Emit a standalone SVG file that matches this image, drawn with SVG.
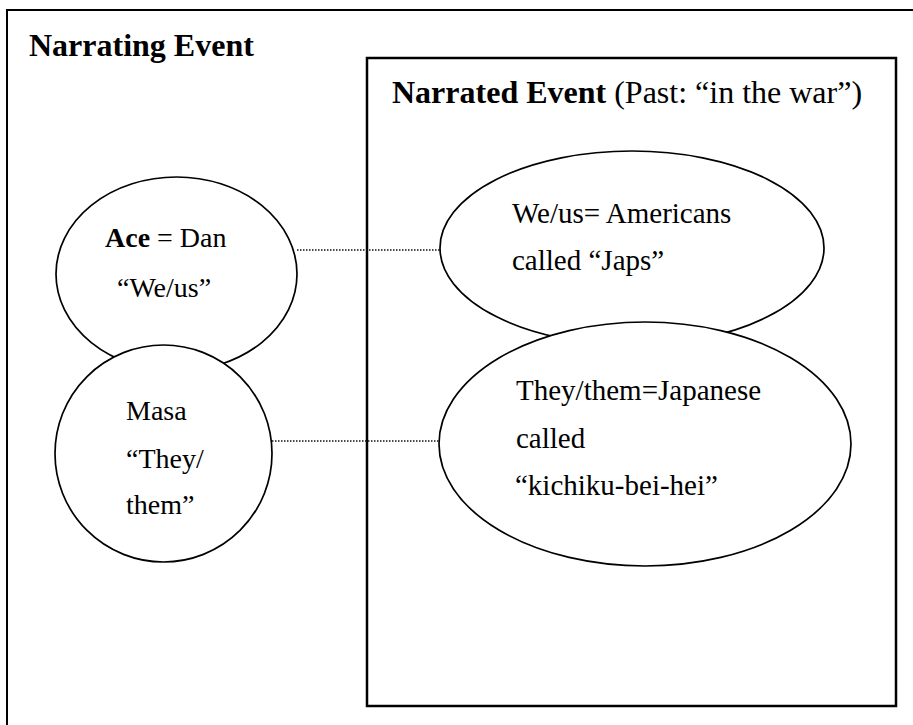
<svg xmlns="http://www.w3.org/2000/svg" width="913" height="725" viewBox="0 0 913 725">
  <style>
    .frame { fill: none; stroke: #000; }
    .bubble { fill: #fff; stroke: #000; stroke-width: 1.7; }
    .link { stroke: #111; stroke-width: 1.4; stroke-dasharray: 1.5 1.5; fill: none; }
    text { font-family: "Liberation Serif", "Times New Roman", serif; fill: #000; }
    .head { font-size: 32px; }
    .label { font-size: 28px; }
    .label-r { font-size: 29px; }
    .b { font-weight: bold; }
  </style>
  <rect width="913" height="725" fill="#fff"/>

  <!-- outer frame: the narrating event (runs past the right and bottom edges) -->
  <g id="narrating-event">
    <path class="frame" stroke-width="2" d="M7,726 V10 H914"/>
    <text class="head b" x="29" y="56">Narrating Event</text>
  </g>

  <!-- inner frame: the narrated event -->
  <g id="narrated-event">
    <rect class="frame" stroke-width="2.5" x="367" y="58" width="529" height="648"/>
    <text class="head" x="392" y="103"><tspan class="b">Narrated Event</tspan> (Past: “in the war”)</text>
  </g>

  <!-- dotted links between participants and their referents -->
  <g id="connectors">
    <line class="link" x1="297" y1="250" x2="440" y2="250"/>
    <line class="link" x1="272" y1="441" x2="439" y2="441"/>
  </g>

  <g id="ace">
    <ellipse class="bubble" cx="176.5" cy="274" rx="120.5" ry="97"/>
    <text class="label" x="105" y="247"><tspan class="b">Ace</tspan> = Dan</text>
    <text class="label" x="117" y="297">“We/us”</text>
  </g>

  <g id="masa">
    <ellipse class="bubble" cx="163.5" cy="453.5" rx="108.5" ry="108.5"/>
    <text class="label" x="126" y="420">Masa</text>
    <text class="label" x="126" y="468">“They/</text>
    <text class="label" x="126" y="514">them”</text>
  </g>

  <g id="americans">
    <ellipse class="bubble" cx="632" cy="248" rx="192" ry="97"/>
    <text class="label-r" x="512" y="223">We/us= Americans</text>
    <text class="label-r" x="512" y="270">called “Japs”</text>
  </g>

  <g id="japanese">
    <ellipse class="bubble" cx="645" cy="444" rx="206" ry="122"/>
    <text class="label-r" x="516" y="400">They/them=Japanese</text>
    <text class="label-r" x="516" y="448">called</text>
    <text class="label-r" x="515" y="495">“kichiku-bei-hei”</text>
  </g>
</svg>
